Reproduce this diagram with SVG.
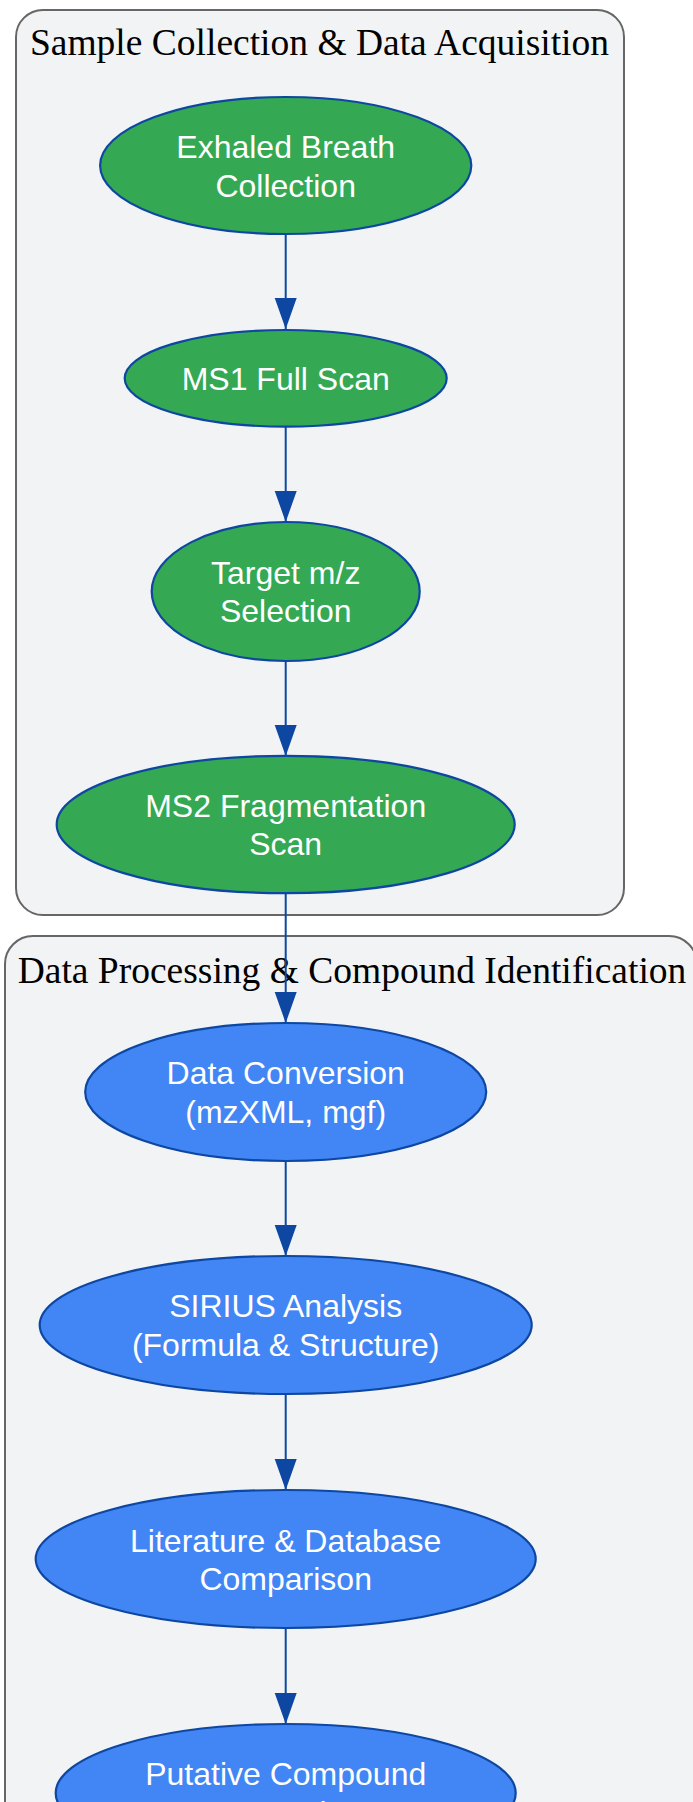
<svg xmlns="http://www.w3.org/2000/svg" width="693" height="1802" viewBox="0 0 693 1802">
<style>
.cluster{fill:#f1f3f5;stroke:#666666;stroke-width:2}
.ctitle{font-family:"Liberation Serif","Times New Roman",serif;font-size:37.5px;fill:#000;text-anchor:middle}
.green{fill:#34a853;stroke:#0d47a1;stroke-width:2.2}
.blue{fill:#4285f4;stroke:#0d47a1;stroke-width:2.2}
.lbl{font-family:"Liberation Sans",Arial,sans-serif;font-size:32px;fill:#ffffff;text-anchor:middle}
.edge{stroke:#0d47a1;stroke-width:2;fill:none;marker-end:url(#arr)}
</style>
<defs>
<marker id="arr" markerUnits="userSpaceOnUse" markerWidth="32" markerHeight="24" refX="31" refY="11" orient="auto">
<path d="M0,0 L31,11 L0,22 Z" fill="#0d47a1"/>
</marker>
</defs>
<g id="cluster_acq">
<rect class="cluster" x="16" y="10" width="608" height="905" rx="27" ry="27"/>
<text class="ctitle" x="319.5" y="55">Sample Collection &amp; Data Acquisition</text>
</g>
<g id="cluster_proc">
<rect class="cluster" x="5" y="936" width="692" height="900" rx="28" ry="28"/>
<text class="ctitle" x="352" y="983">Data Processing &amp; Compound Identification</text>
</g>
<g id="edges">
<path class="edge" d="M285.7,234 V329"/>
<path class="edge" d="M285.7,427 V522"/>
<path class="edge" d="M285.7,661 V756"/>
<path class="edge" d="M285.7,893 V1023"/>
<path class="edge" d="M285.7,1161 V1256"/>
<path class="edge" d="M285.7,1394 V1490"/>
<path class="edge" d="M285.7,1628 V1724"/>
</g>
<g id="n_breath">
<ellipse class="green" cx="285.7" cy="165.5" rx="185.6" ry="68.5"/>
<text class="lbl" x="285.7" y="157.5">Exhaled Breath</text>
<text class="lbl" x="285.7" y="196.5">Collection</text>
</g>
<g id="n_ms1">
<ellipse class="green" cx="285.7" cy="378.3" rx="161" ry="48.3"/>
<text class="lbl" x="285.7" y="389.5">MS1 Full Scan</text>
</g>
<g id="n_target">
<ellipse class="green" cx="285.7" cy="591.5" rx="134" ry="69.5"/>
<text class="lbl" x="285.7" y="583.5">Target m/z</text>
<text class="lbl" x="285.7" y="622">Selection</text>
</g>
<g id="n_ms2">
<ellipse class="green" cx="285.7" cy="824.5" rx="229" ry="68.7"/>
<text class="lbl" x="285.7" y="816.5">MS2 Fragmentation</text>
<text class="lbl" x="285.7" y="855">Scan</text>
</g>
<g id="n_conv">
<ellipse class="blue" cx="285.7" cy="1092" rx="200.5" ry="69"/>
<text class="lbl" x="285.7" y="1083.5">Data Conversion</text>
<text class="lbl" x="285.7" y="1122.5">(mzXML, mgf)</text>
</g>
<g id="n_sirius">
<ellipse class="blue" cx="285.7" cy="1325" rx="246" ry="69"/>
<text class="lbl" x="285.7" y="1316.5">SIRIUS Analysis</text>
<text class="lbl" x="285.7" y="1355.5">(Formula &amp; Structure)</text>
</g>
<g id="n_lit">
<ellipse class="blue" cx="285.7" cy="1559" rx="250" ry="69"/>
<text class="lbl" x="285.7" y="1551.5">Literature &amp; Database</text>
<text class="lbl" x="285.7" y="1590">Comparison</text>
</g>
<g id="n_putative">
<ellipse class="blue" cx="285.7" cy="1793" rx="230" ry="69"/>
<text class="lbl" x="285.7" y="1785">Putative Compound</text>
<text class="lbl" x="285.7" y="1824">Annotation</text>
</g>
</svg>
